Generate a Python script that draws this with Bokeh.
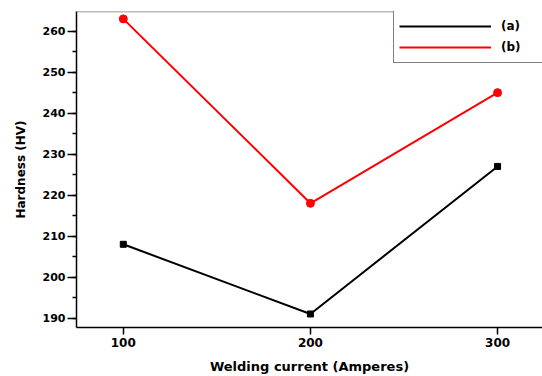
from bokeh.plotting import figure
from bokeh.models import Range1d, FixedTicker, SingleIntervalTicker, Legend, LegendItem, Span
from bokeh.embed import file_html
from bokeh.resources import INLINE

current = [100, 200, 300]
hardness_a = [208, 191, 227]
hardness_b = [263, 218, 245]
labels = ["(a)", "(b)"]

FONT = "DejaVu Sans"

p = figure(width=542, height=376, output_backend="svg", toolbar_location=None,
           x_range=Range1d(75, 324), y_range=Range1d(187.7, 264.8),
           min_border_left=76, min_border_right=0, min_border_top=11, min_border_bottom=48)
p.outline_line_color = None
p.xgrid.visible = False
p.ygrid.visible = False
p.background_fill_color = "white"
p.border_fill_color = "white"

la = p.line(current, hardness_a, line_color="black", line_width=2)
p.scatter(current, hardness_a, marker="square", size=6, color="black")
lb = p.line(current, hardness_b, line_color="#ff0000", line_width=2)
p.scatter(current, hardness_b, marker="circle", size=8, color="#ff0000")

p.add_layout(Span(location=264.8, dimension="width", line_color="#777777", line_width=1.5))

xa = p.xaxis[0]
xa.ticker = FixedTicker(ticks=current)
xa.axis_label = "Welding current (Amperes)"
ya = p.yaxis[0]
ya.ticker = SingleIntervalTicker(interval=10, num_minor_ticks=2)
ya.axis_label = "Hardness (HV)"
for ax in (xa, ya):
    ax.axis_line_color = "black"
    ax.axis_line_width = 1.5
    ax.major_tick_line_color = "black"
    ax.major_tick_line_width = 1.5
    ax.minor_tick_line_color = "black"
    ax.minor_tick_line_width = 1.5
    ax.major_tick_in = 0
    ax.minor_tick_in = 0
    ax.major_label_text_font = FONT
    ax.major_label_text_font_style = "bold"
    ax.major_label_text_color = "black"
    ax.axis_label_text_font = FONT
    ax.axis_label_text_font_style = "bold"
    ax.axis_label_text_color = "black"
xa.major_tick_out = 7
xa.minor_tick_out = 0
xa.major_label_text_font_size = "12px"
xa.major_label_standoff = 3
xa.axis_label_standoff = 9
xa.axis_label_text_font_size = "13px"
ya.major_tick_out = 9
ya.minor_tick_out = 4
ya.major_label_text_font_size = "11px"
ya.major_label_standoff = 2
ya.axis_label_standoff = 12
ya.axis_label_text_font_size = "12px"

legend = Legend(items=[LegendItem(label=labels[0], renderers=[la]),
                       LegendItem(label=labels[1], renderers=[lb])],
                location=(317, 264), padding=5, margin=0, spacing=1,
                glyph_width=92, glyph_height=20, label_height=20, label_width=110,
                label_standoff=10, border_line_color="black", border_line_width=1,
                background_fill_color="white", background_fill_alpha=1.0,
                label_text_font=FONT, label_text_font_style="bold",
                label_text_font_size="12px", label_text_color="black")
p.add_layout(legend)

open("out.html", "w").write(file_html(p, INLINE))
